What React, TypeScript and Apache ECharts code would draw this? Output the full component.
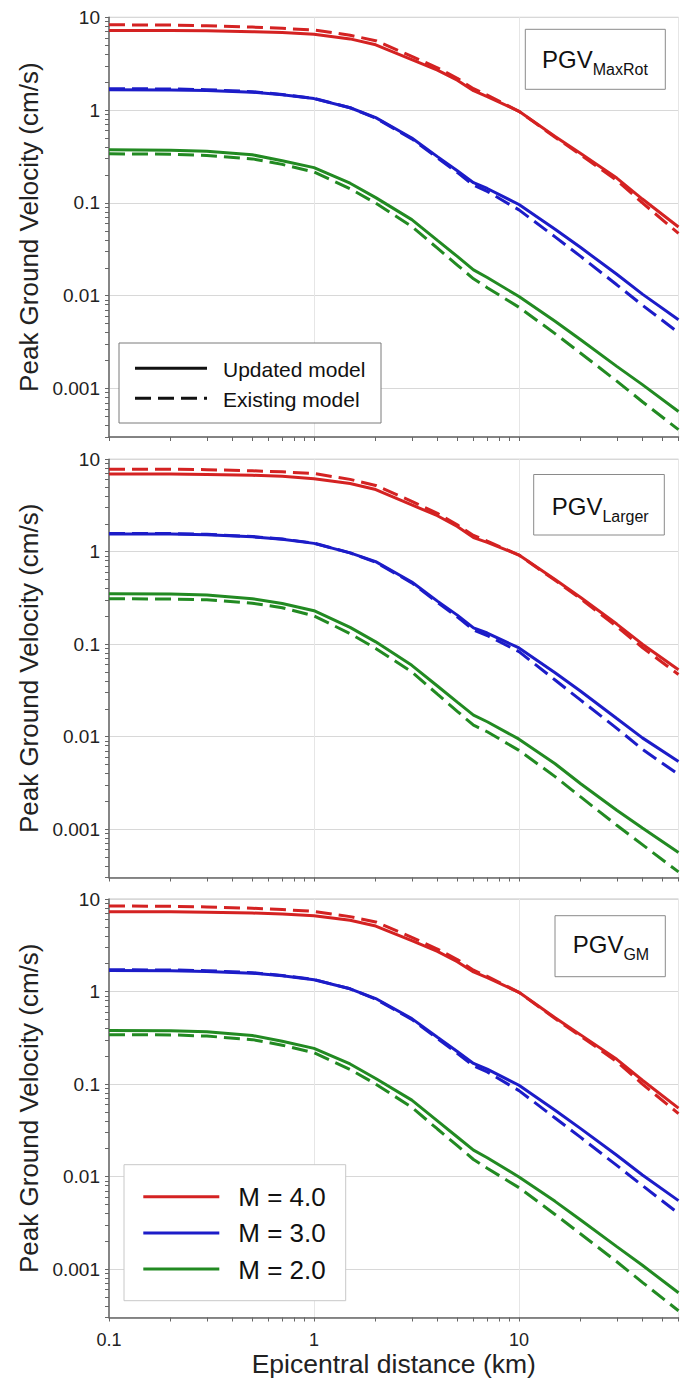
import React, { useEffect, useRef } from "react";
import * as echarts from "echarts";

// ---------- data ----------
const distances = [0.1, 0.2, 0.3, 0.5, 0.7, 1, 1.5, 2, 3, 4, 5, 6, 7, 10, 15, 20, 30, 40, 60];

// Panel 1: PGV MaxRot
const maxRotM4Updated = [7.2, 7.2, 7.15, 7.0, 6.85, 6.55, 5.85, 5.05, 3.5, 2.7, 2.1, 1.62, 1.4, 0.97, 0.52, 0.34, 0.185, 0.11, 0.055];
const maxRotM4Existing = [8.3, 8.25, 8.1, 7.85, 7.6, 7.3, 6.4, 5.6, 3.8, 2.85, 2.2, 1.7, 1.45, 0.97, 0.51, 0.33, 0.175, 0.1, 0.047];
const maxRotM3Updated = [1.66, 1.65, 1.63, 1.56, 1.46, 1.33, 1.06, 0.83, 0.5, 0.315, 0.222, 0.165, 0.143, 0.096, 0.052, 0.033, 0.017, 0.0104, 0.0055];
const maxRotM3Existing = [1.7, 1.69, 1.66, 1.58, 1.47, 1.34, 1.06, 0.82, 0.49, 0.305, 0.213, 0.155, 0.133, 0.084, 0.043, 0.0265, 0.0131, 0.0079, 0.004];
const maxRotM2Updated = [0.373, 0.37, 0.36, 0.33, 0.285, 0.24, 0.163, 0.114, 0.066, 0.0394, 0.0265, 0.019, 0.0157, 0.0098, 0.0053, 0.00335, 0.00173, 0.0011, 0.000565];
const maxRotM2Existing = [0.338, 0.335, 0.325, 0.298, 0.26, 0.215, 0.142, 0.0995, 0.0557, 0.0325, 0.0214, 0.0152, 0.0122, 0.0075, 0.0039, 0.0024, 0.0012, 0.00072, 0.00036];

// Panel 2: PGV Larger
const largerM4Updated = [6.9, 6.9, 6.85, 6.7, 6.55, 6.15, 5.45, 4.7, 3.2, 2.45, 1.87, 1.42, 1.26, 0.92, 0.5, 0.32, 0.165, 0.1, 0.053];
const largerM4Existing = [7.8, 7.8, 7.7, 7.5, 7.3, 7.0, 6.05, 5.2, 3.5, 2.6, 1.95, 1.5, 1.3, 0.92, 0.49, 0.31, 0.155, 0.092, 0.047];
const largerM3Updated = [1.55, 1.55, 1.52, 1.45, 1.36, 1.23, 0.97, 0.78, 0.47, 0.292, 0.206, 0.15, 0.132, 0.091, 0.049, 0.031, 0.0157, 0.0097, 0.0054];
const largerM3Existing = [1.57, 1.57, 1.54, 1.46, 1.37, 1.24, 0.97, 0.77, 0.46, 0.283, 0.197, 0.142, 0.124, 0.083, 0.041, 0.0248, 0.0123, 0.0073, 0.0039];
const largerM2Updated = [0.35, 0.348, 0.34, 0.31, 0.275, 0.23, 0.152, 0.106, 0.059, 0.0353, 0.0236, 0.0171, 0.0145, 0.0094, 0.0051, 0.0031, 0.0016, 0.00103, 0.00056];
const largerM2Existing = [0.31, 0.308, 0.302, 0.277, 0.248, 0.202, 0.13, 0.09, 0.05, 0.0288, 0.0188, 0.0133, 0.0113, 0.0071, 0.0037, 0.00223, 0.0011, 0.00068, 0.000345];

// Panel 3: PGV GM
const gmM4Updated = [7.3, 7.28, 7.2, 7.05, 6.9, 6.6, 5.9, 5.1, 3.55, 2.72, 2.1, 1.63, 1.41, 0.98, 0.52, 0.34, 0.185, 0.11, 0.055];
const gmM4Existing = [8.4, 8.35, 8.2, 7.95, 7.7, 7.35, 6.45, 5.65, 3.85, 2.88, 2.22, 1.7, 1.46, 0.98, 0.51, 0.33, 0.175, 0.1, 0.048];
const gmM3Updated = [1.69, 1.68, 1.65, 1.58, 1.48, 1.34, 1.07, 0.84, 0.51, 0.32, 0.225, 0.167, 0.145, 0.097, 0.052, 0.033, 0.017, 0.0104, 0.0055];
const gmM3Existing = [1.72, 1.71, 1.68, 1.6, 1.49, 1.35, 1.07, 0.83, 0.5, 0.31, 0.215, 0.157, 0.135, 0.085, 0.043, 0.0265, 0.0132, 0.008, 0.004];
const gmM2Updated = [0.38, 0.377, 0.367, 0.335, 0.29, 0.243, 0.165, 0.115, 0.067, 0.04, 0.0268, 0.0193, 0.016, 0.0099, 0.0054, 0.0034, 0.00175, 0.0011, 0.000555];
const gmM2Existing = [0.342, 0.34, 0.33, 0.302, 0.263, 0.218, 0.144, 0.1, 0.056, 0.0327, 0.0216, 0.0153, 0.0123, 0.0076, 0.0039, 0.0024, 0.0012, 0.00072, 0.000355];

const panelLabels = [
  { main: "PGV", sub: "MaxRot" },
  { main: "PGV", sub: "Larger" },
  { main: "PGV", sub: "GM" },
];
const magnitudeLabels = ["M = 4.0", "M = 3.0", "M = 2.0"];
const modelLabels = ["Updated model", "Existing model"];
const yLabelValues = [0.001, 0.01, 0.1, 1, 10];
const xLabelValues = [0.1, 1, 10];
const yTitle = "Peak Ground Velocity (cm/s)";
const xTitle = "Epicentral distance (km)";

// ---------- styling ----------
const FONT = "'Liberation Sans', Arial, Helvetica, sans-serif";
const RED = "#d42222";
const BLUE = "#1c1cc8";
const GREEN = "#228a22";
const DASH = [16, 7];

const panels = [
  { top: 17.3, height: 419.7, series: [[maxRotM4Updated, maxRotM4Existing], [maxRotM3Updated, maxRotM3Existing], [maxRotM2Updated, maxRotM2Existing]] },
  { top: 459.2, height: 418.3, series: [[largerM4Updated, largerM4Existing], [largerM3Updated, largerM3Existing], [largerM2Updated, largerM2Existing]] },
  { top: 899, height: 418.5, series: [[gmM4Updated, gmM4Existing], [gmM3Updated, gmM3Existing], [gmM2Updated, gmM2Existing]] },
];
const colors = [RED, BLUE, GREEN];

const yTickValues: number[] = [];
for (const d of [0.0001, 0.001, 0.01, 0.1, 1]) for (let k = 1; k <= 9; k++) {
  const v = parseFloat((k * d).toPrecision(6));
  if (v >= 0.0003 && v <= 10) yTickValues.push(v);
}
yTickValues.push(10);
const xTickValues: number[] = [];
for (const d of [0.1, 1, 10]) for (let k = 1; k <= 9; k++) {
  const v = parseFloat((k * d).toPrecision(6));
  if (v >= 0.1 && v <= 60) xTickValues.push(v);
}

const fmtPow = (v: number) => {
  const e = Math.round(Math.log10(v));
  return e >= 0 ? String(Math.pow(10, e)) : "0." + "0".repeat(-e - 1) + "1";
};

function buildOption() {
  const grid: any[] = [];
  const xAxis: any[] = [];
  const yAxis: any[] = [];
  const series: any[] = [];
  const xOverlay: any[] = [];
  const yOverlay: any[] = [];
  panels.forEach((p, i) => {
    grid.push({
      left: 109, top: p.top, width: 569.5, height: p.height,
      show: true, borderColor: "#c4c4c4", borderWidth: 1, backgroundColor: "transparent",
    });
    xAxis.push({
      type: "log", logBase: 10, gridIndex: i, min: 0.1, max: 60, position: "bottom",
      axisLine: { show: true, onZero: false, lineStyle: { color: "#666", width: 1.5 } },
      axisTick: { show: false },
      axisLabel: {
        show: i === 2, customValues: xLabelValues, formatter: fmtPow,
        fontSize: 18, color: "#222", margin: 13, fontFamily: FONT,
      },
      splitLine: { show: true, lineStyle: { color: "#e6e6e6", width: 1 } },
      name: i === 2 ? xTitle : "", nameLocation: "middle", nameGap: 33,
      nameTextStyle: { fontSize: 26.5, color: "#222", fontFamily: FONT },
    });
    yAxis.push({
      type: "log", logBase: 10, gridIndex: i, min: 0.0003, max: 10, position: "left",
      axisLine: { show: true, onZero: false, lineStyle: { color: "#666", width: 1.5 } },
      axisTick: { show: false },
      axisLabel: {
        customValues: yLabelValues, formatter: fmtPow,
        fontSize: 19, color: "#222", margin: 9, fontFamily: FONT,
      },
      splitLine: { show: true, lineStyle: { color: "#d8d8d8", width: 1 } },
      name: yTitle, nameLocation: "middle", nameGap: 57,
      nameTextStyle: { fontSize: 26, color: "#222", fontFamily: FONT },
    });
    // overlay axes carrying only the minor/major tick marks
    xOverlay.push({
      type: "log", logBase: 10, gridIndex: i, min: 0.1, max: 60, position: "bottom", offset: 0,
      axisLine: { show: false },
      axisTick: { show: true, inside: false, length: 4, lineStyle: { color: "#666", width: 1 }, customValues: xTickValues },
      axisLabel: { show: false },
      splitLine: { show: false },
    });
    yOverlay.push({
      type: "log", logBase: 10, gridIndex: i, min: 0.0003, max: 10, position: "left", offset: 0,
      axisLine: { show: false },
      axisTick: { show: true, inside: false, length: 4, lineStyle: { color: "#666", width: 1 }, customValues: yTickValues },
      axisLabel: { show: false },
      splitLine: { show: false },
    });
    p.series.forEach((pair, ci) => {
      pair.forEach((vals, si) => {
        series.push({
          type: "line",
          name: `${panelLabels[i].sub} ${magnitudeLabels[ci]} ${modelLabels[si]}`,
          xAxisIndex: i, yAxisIndex: i,
          data: distances.map((d, k) => [d, vals[k]]),
          symbol: "none", smooth: false, silent: true,
          z: si === 0 ? 3 : 2,
          lineStyle: { color: colors[ci], width: 3, type: si === 0 ? "solid" : DASH, cap: "butt" },
        });
      });
    });
  });

  // annotation boxes and legends
  const boxes = [
    { x: 525.3, y: 29.3, w: 140, h: 60, tx: 542, base: 67.7 },
    { x: 533.7, y: 474.5, w: 130.6, h: 60.5, tx: 551.7, base: 515.5 },
    { x: 555, y: 915.7, w: 110.3, h: 61, tx: 572.7, base: 953.3 },
  ];
  const graphic: any[] = [];
  boxes.forEach((b, i) => {
    graphic.push({
      type: "rect", shape: { x: b.x, y: b.y, width: b.w, height: b.h },
      style: { fill: "#fff", stroke: "#8a8a8a", lineWidth: 1 }, z: 10,
    });
    graphic.push({
      type: "text", x: b.tx, y: b.base - 8.6, z: 11,
      style: { text: panelLabels[i].main, fontSize: 24, fontFamily: FONT, fill: "#111", align: "left", verticalAlign: "middle" },
    });
    graphic.push({
      type: "text", x: b.tx + 50.7, y: b.base + 7 - 5.7, z: 11,
      style: { text: panelLabels[i].sub, fontSize: 16, fontFamily: FONT, fill: "#111", align: "left", verticalAlign: "middle" },
    });
  });

  // Legend 1: model line styles
  graphic.push({
    type: "rect", shape: { x: 119, y: 343, width: 262, height: 80 },
    style: { fill: "#fff", stroke: "#7a7a7a", lineWidth: 1 }, z: 10,
  });
  modelLabels.forEach((lbl, k) => {
    const cy = 368.3 + k * 30;
    graphic.push({
      type: "line", shape: { x1: 135, y1: cy, x2: 207, y2: cy }, z: 11,
      style: { stroke: "#111", lineWidth: 3, lineDash: k === 1 ? [16, 7] : null },
    });
    graphic.push({
      type: "text", x: 223, y: cy + 0.8, z: 11,
      style: { text: lbl, fontSize: 21, fontFamily: FONT, fill: "#111", align: "left", verticalAlign: "middle" },
    });
  });

  // Legend 2: magnitudes
  graphic.push({
    type: "rect", shape: { x: 124, y: 1164.7, width: 221.7, height: 136 },
    style: { fill: "#fff", stroke: "#c8c8c8", lineWidth: 1 }, z: 10,
  });
  magnitudeLabels.forEach((lbl, k) => {
    const cy = 1196.7 + k * 36.2;
    graphic.push({
      type: "line", shape: { x1: 143.3, y1: cy, x2: 219.3, y2: cy }, z: 11,
      style: { stroke: colors[k], lineWidth: 3 },
    });
    graphic.push({
      type: "text", x: 238.3, y: cy + 0.5, z: 11,
      style: { text: lbl, fontSize: 26, fontFamily: FONT, fill: "#111", align: "left", verticalAlign: "middle" },
    });
  });

  return {
    animation: false,
    backgroundColor: "#ffffff",
    textStyle: { fontFamily: FONT },
    grid,
    xAxis: [...xAxis, ...xOverlay],
    yAxis: [...yAxis, ...yOverlay],
    series, graphic,
  };
}

export default function App() {
  const ref = useRef<HTMLDivElement>(null);
  useEffect(() => {
    if (!ref.current) return;
    const chart = echarts.init(ref.current, null, { renderer: "svg" });
    chart.setOption(buildOption() as any);
    return () => chart.dispose();
  }, []);
  return (
    <div
      ref={ref}
      style={{ position: "absolute", left: 0, top: 0, width: 692, height: 1383, background: "#fff" }}
    />
  );
}
